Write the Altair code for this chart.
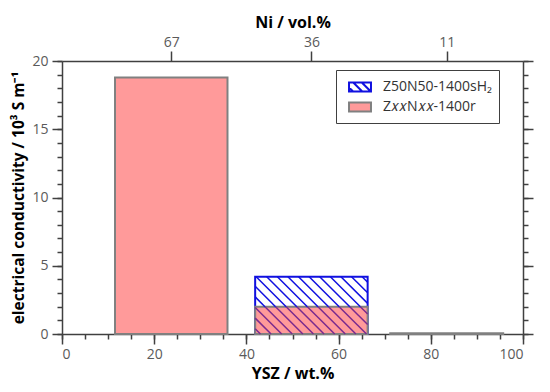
import altair as alt
import pandas as pd

# ---------------- data ----------------
ysz_left = [11.5, 41.9, 71.2]          # left edge of each bar (YSZ wt.%)
ysz_right = [35.9, 66.3, 95.7]         # right edge of each bar (YSZ wt.%)
ni_vol = [67, 36, 11]                  # Ni vol.% (top axis) for each bar
sigma_1400r = [18.8, 2.0, 0.05]        # ZxxNxx-1400r, 10^3 S/m
sigma_1400sH2 = [4.2]                  # Z50N50-1400sH2, 10^3 S/m
h2_bar_index = 1                       # bar position of Z50N50-1400sH2

series_h2 = "Z50N50-1400sH₂"
series_r = "Z𝑥𝑥N𝑥𝑥-1400r"

x_major = [0, 20, 40, 60, 80, 100]
x_minor = list(range(0, 101, 5))
y_major = [0, 5, 10, 15, 20]
y_minor = list(range(0, 21, 1))

# ---------------- styling ----------------
W, H = 461, 273
X_DOMAIN = [0, 100]
Y_DOMAIN = [0, 20]
PINK = "#ff9a9a"
GREY = "#808080"
BLUE = "#1010e0"
PURPLE = "#7a2a8e"
AXC = "#404040"
LABC = "#5a5a5a"
FONT = "Open Sans"

centers = [(l + r) / 2 for l, r in zip(ysz_left, ysz_right)]

df_h2 = pd.DataFrame(dict(x0=[ysz_left[h2_bar_index]], x1=[ysz_right[h2_bar_index]],
                          y0=[0], y1=sigma_1400sH2))
df_r = pd.DataFrame(dict(x0=ysz_left, x1=ysz_right, y0=[0, 0, 0], y1=sigma_1400r))

# hatch of the H2 bar: 45 degree lines in pixel space, clipped to the bar
px_x = W / (X_DOMAIN[1] - X_DOMAIN[0])
px_y = H / (Y_DOMAIN[1] - Y_DOMAIN[0])
s = px_y / px_x                 # x-units per y-unit for a 45 degree line
dx = 10.6 / px_x                # horizontal spacing of hatch lines
xl, xr = ysz_left[h2_bar_index], ysz_right[h2_bar_index]
ytop = sigma_1400sH2[0]
ysplit = sigma_1400r[h2_bar_index]


def hatch(ya, yb):
    segs = []
    c = xl + 0.5 * dx - (ytop) * s - dx * 2
    while c < xr:
        y_hi = min(yb, ytop - (xl - c) / s)
        y_lo = max(ya, ytop - (xr - c) / s)
        if y_hi > y_lo:
            segs.append(dict(hx0=c + (ytop - y_hi) * s, hy0=y_hi,
                             hx1=c + (ytop - y_lo) * s, hy1=y_lo))
        c += dx
    return pd.DataFrame(segs)


hatch_over = hatch(ysplit, ytop)
hatch_under = hatch(0, ysplit)

legend_df = pd.DataFrame(dict(series=[series_h2, series_r],
                              xc=[centers[h2_bar_index], centers[0]],
                              yc=[sigma_1400sH2[0], sigma_1400r[0]]))

xs = alt.Scale(domain=X_DOMAIN, nice=False, zero=False)
ys = alt.Scale(domain=Y_DOMAIN, nice=False, zero=False)

ser_domain = [series_h2, series_r]
fill_scale = alt.Scale(domain=ser_domain, range=["white", PINK])
stroke_scale = alt.Scale(domain=ser_domain, range=[BLUE, GREY])
hatch_path = ("M-1.22,-0.5H1.22V0.5H-1.22Z"
              "M-0.75,-0.5L0.25,0.5M0.2,-0.5L1.2,0.5M-1.22,0.05L-0.77,0.5")
rect_path = "M-1.22,-0.5H1.22V0.5H-1.22Z"
shape_scale = alt.Scale(domain=ser_domain, range=[hatch_path, rect_path])

common = dict(domainColor=AXC, tickColor=AXC, domainWidth=1.5, tickWidth=1.5,
              labelColor=LABC, labelFontSize=14, labelFont=FONT, grid=False,
              titleFont=FONT, titleColor="black", titleFontWeight="bold")

ax_bottom = alt.Axis(orient="bottom", values=x_major, tickSize=10, labelPadding=3,
                     title="YSZ / wt.%", titleFontSize=16, titlePadding=4, **common)
ax_bottom_minor = alt.Axis(orient="bottom", values=x_minor, tickSize=5, labels=False,
                           domain=False, title=None, **common)
ax_top = alt.Axis(orient="top", values=centers, tickSize=10, labelPadding=2,
                  labelExpr=f"{ni_vol}[indexof({centers}, datum.value)]",
                  title="Ni / vol.%", titleFontSize=16, titlePadding=5, **common)
ax_left = alt.Axis(orient="left", values=y_major, tickSize=10, labelPadding=4,
                   title="electrical conductivity / 10³ S m⁻¹", titleFontSize=15.5,
                   titlePadding=5, **common)
ax_left_minor = alt.Axis(orient="left", values=y_minor, tickSize=5, labels=False,
                         domain=False, title=None, **common)
ax_right = alt.Axis(orient="right", values=y_major, tickSize=10, labels=False,
                    title=None, **common)
ax_right_minor = alt.Axis(orient="right", values=y_minor, tickSize=5, labels=False,
                          domain=False, title=None, **common)

rect_h2 = alt.Chart(df_h2).mark_rect(fill="white", stroke=BLUE, strokeWidth=2).encode(
    x=alt.X("x0:Q", scale=xs, axis=ax_bottom),
    x2="x1:Q",
    y=alt.Y("y1:Q", scale=ys, axis=ax_left),
    y2="y0:Q",
)

rect_r = alt.Chart(df_r).mark_rect(fill=PINK, stroke=GREY, strokeWidth=2).encode(
    x=alt.X("x0:Q", scale=xs, axis=ax_bottom_minor),
    x2="x1:Q",
    y=alt.Y("y1:Q", scale=ys, axis=ax_left_minor),
    y2="y0:Q",
)

h_under = alt.Chart(hatch_under).mark_rule(color=PURPLE, strokeWidth=1.5).encode(
    x=alt.X("hx0:Q", scale=xs, axis=None),
    x2="hx1:Q",
    y=alt.Y("hy0:Q", scale=ys, axis=ax_right_minor),
    y2="hy1:Q",
)

h_over = alt.Chart(hatch_over).mark_rule(color=BLUE, strokeWidth=1.5).encode(
    x=alt.X("hx0:Q", scale=xs, axis=ax_top),
    x2="hx1:Q",
    y=alt.Y("hy0:Q", scale=ys, axis=ax_right),
    y2="hy1:Q",
)

LEG = alt.Legend(title=None, orient="none", legendX=274, legendY=9)
leg = alt.Chart(legend_df).mark_point(filled=True, opacity=0, strokeWidth=2).encode(
    x=alt.X("xc:Q", scale=xs, axis=None),
    y=alt.Y("yc:Q", scale=ys, axis=None),
    fill=alt.Fill("series:N", scale=fill_scale, legend=LEG),
    stroke=alt.Stroke("series:N", scale=stroke_scale, legend=LEG),
    shape=alt.Shape("series:N", scale=shape_scale, legend=LEG),
)

chart = alt.layer(rect_h2, rect_r, h_under, h_over, leg).resolve_axis(
    x="independent", y="independent"
).properties(
    width=W, height=H,
    autosize=alt.AutoSizeParams(type="none"),
    padding={"left": 54, "top": 53, "right": 19, "bottom": 58},
).configure_view(stroke=None).configure_legend(
    padding=7, strokeColor=AXC, fillColor="white", labelFontSize=14, labelFont=FONT,
    labelColor="#333333", symbolSize=324, symbolStrokeWidth=2, symbolOpacity=1,
    labelOffset=13, symbolOffset=7, rowPadding=1, cornerRadius=0,
)

chart.save("out.html", embed_options={"renderer": "svg", "actions": False})
